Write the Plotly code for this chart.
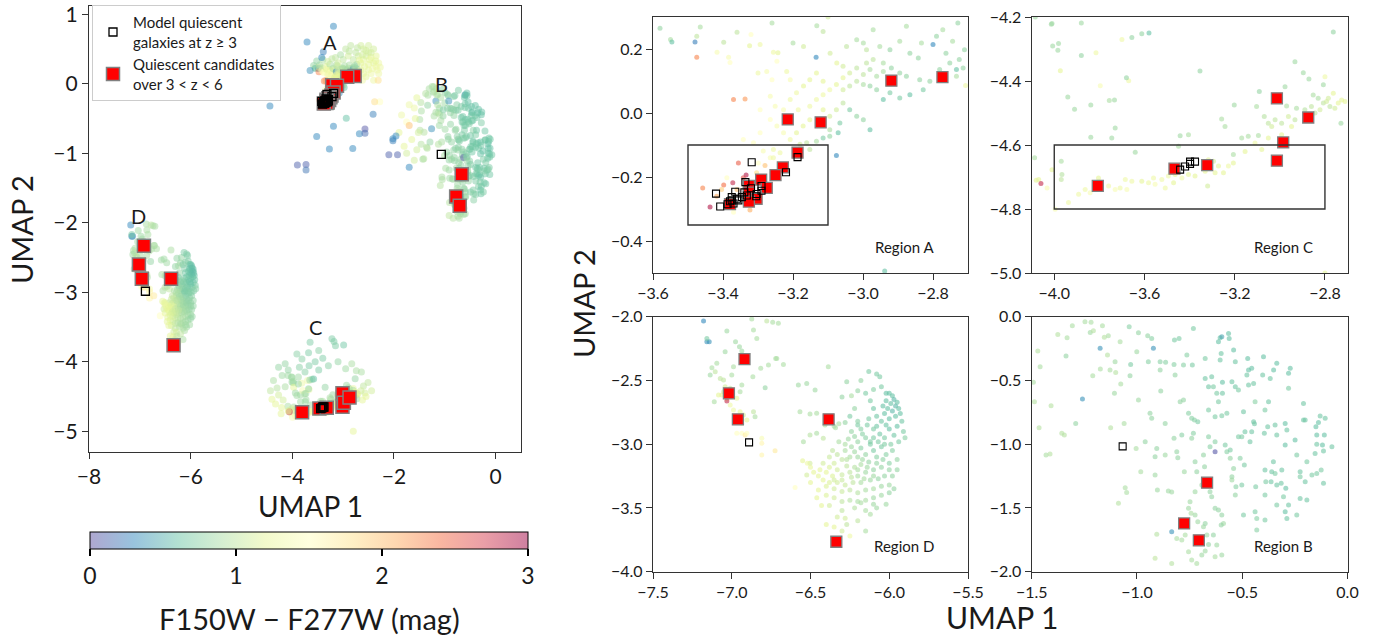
import plotly.graph_objects as go

# ---------------- data: (UMAP1, UMAP2, F150W-F277W colour) ----------------
CLUSTER_A = [
    (-3.58,0.265,0.8),(-3.55,0.23,0.9),(-3.546,0.222,0.6),(-3.48,0.222,0.25),(-3.475,0.174,2.3),(-3.465,0.269,0.9),
    (-3.475,0.24,1.0),(-3.417,0.19,1.4),(-3.398,0.221,1.0),(-3.384,0.174,1.4),(-3.38,0.158,1.5),(-3.36,0.252,1.0),
    (-3.324,0.21,1.2),(-3.32,0.245,1.5),(-3.294,0.214,1.3),(-3.26,0.281,0.9),(-3.256,0.19,1.3),(-3.243,0.188,1.2),
    (-3.246,0.162,1.5),(-3.26,0.104,1.5),(-3.275,0.13,1.4),(-3.3,0.125,1.3),(-3.218,0.13,1.3),(-3.208,0.104,1.4),
    (-3.2,0.219,0.9),(-3.17,0.208,1.1),(-3.134,0.174,0.3),(-3.132,0.273,0.9),(-3.114,0.255,1.0),(-3.094,0.187,1.1),
    (-3.075,0.156,1.2),(-3.047,0.208,1.0),(-3.018,0.229,0.9),(-2.999,0.219,0.9),(-2.99,0.198,1.0),(-2.971,0.26,0.9),
    (-2.952,0.208,0.9),(-2.923,0.198,0.8),(-2.895,0.224,0.9),(-2.876,0.271,0.9),(-2.866,0.187,0.8),(-2.842,0.172,0.8),
    (-2.833,0.219,0.9),(-2.8,0.214,0.3),(-2.79,0.24,0.8),(-2.772,0.26,0.9),(-2.763,0.187,0.8),(-2.744,0.224,0.9),
    (-2.729,0.281,0.8),(-2.725,0.167,0.8),(-2.71,0.198,0.8),(-2.733,0.136,0.6),(-2.707,0.086,1.3),
    (-3.057,0.146,1.1),(-3.038,0.125,1.1),(-3.018,0.141,1.0),(-2.999,0.12,1.0),(-2.98,0.136,0.9),(-2.961,0.115,0.9),
    (-2.942,0.13,0.9),(-2.919,0.141,0.8),(-2.895,0.125,0.8),(-2.876,0.115,0.8),(-2.942,0.156,0.9),(-2.971,0.167,1.0),
    (-2.99,0.156,1.0),(-3.057,0.11,1.2),(-3.076,0.089,1.2),(-3.095,0.073,1.3),(-3.114,0.057,1.3),(-3.057,0.073,1.1),
    (-3.038,0.084,1.0),(-3.018,0.099,1.0),(-2.999,0.089,0.9),(-2.98,0.084,0.8),(-2.961,0.073,0.8),(-2.942,0.042,0.6),
    (-2.923,0.063,0.7),(-2.895,0.047,0.7),(-2.866,0.057,0.6),(-2.838,0.104,0.8),(-2.828,0.073,0.7),(-2.809,0.099,0.8),
    (-2.781,0.136,0.8),(-2.752,0.156,0.8),(-2.733,0.115,0.9),(-2.714,0.141,0.8),
    (-3.133,0.042,1.3),(-3.152,0.021,1.3),(-3.114,0.01,1.2),(-3.095,-0.01,1.1),(-3.076,0.01,1.1),(-3.057,0.031,1.0),
    (-3.038,0.01,0.7),(-3.066,-0.031,0.7),(-3.095,-0.052,0.9),(-3.114,-0.078,0.7),(-3.133,-0.088,0.9),(-3.095,-0.073,0.8),
    (-3.071,-0.062,0.6),(-3.076,-0.133,0.3),(-2.98,-0.052,0.6),(-2.999,-0.021,0.8),(-3.018,-0.01,0.8),(-3.152,-0.021,1.2),
    (-3.171,-0.041,1.2),(-3.19,-0.062,1.2),(-3.161,-0.093,1.0),(-3.152,-0.114,1.0),(-3.18,-0.098,1.1),(-3.208,-0.083,1.3),
    (-3.227,-0.062,1.4),(-3.246,-0.041,1.4),(-3.265,-0.02,1.5),(-3.294,0.01,1.5),(-3.251,0.021,1.4),(-3.265,0.052,1.4),
    (-3.208,0.042,1.3),(-3.19,0.063,1.3),(-3.17,0.084,1.2),(-3.152,0.104,1.2),(-3.133,0.125,1.2),(-3.114,0.099,1.2),
    (-3.185,0.01,1.3),(-3.227,0.01,1.4),(-3.294,-0.062,1.5),(-3.313,-0.093,1.5),(-3.342,-0.083,1.5),(-3.37,0.042,2.3),
    (-3.337,0.044,2.2),(-3.285,-0.119,1.4),(-3.256,-0.114,1.3),(-3.237,-0.124,1.3),(-3.265,-0.14,1.4),
    (-3.458,-0.234,2.3),(-3.398,-0.225,2.4),(-3.372,-0.218,2.8),(-3.356,-0.156,2.5),(-3.334,-0.194,2.9),(-3.342,-0.202,2.6),
    (-3.437,-0.294,2.9),(-3.37,-0.31,1.5),(-3.389,-0.202,1.5),(-3.299,-0.156,1.5),(-3.28,-0.164,2.0),(-3.256,-0.14,1.3),
    (-3.323,-0.303,2.1),(-3.418,-0.26,2.1),(-3.404,-0.239,1.9),(-3.36,-0.239,2.0),(-3.389,-0.275,2.2),(-3.304,-0.187,1.8),
    (-2.938,-0.494,0.6),
    (-2.65,0.30,1.2),(-2.60,0.35,1.2),(-2.55,0.40,1.1),(-2.50,0.45,1.1),(-2.45,0.38,1.2),(-2.40,0.30,1.2),(-2.35,0.25,1.3),
    (-2.50,0.20,1.2),(-2.60,0.15,1.2),(-2.55,0.10,1.2),(-2.45,0.15,1.3),(-2.35,0.40,1.2),(-2.30,0.30,1.3),(-2.40,0.50,1.1),
    (-2.60,0.50,1.1),(-2.70,0.40,1.1),(-2.80,0.35,1.0),(-2.90,0.40,1.1),(-3.00,0.35,1.0),(-3.10,0.30,1.1),(-2.75,0.45,1.0),
    (-2.65,0.20,1.2),(-2.50,0.28,1.2),(-2.62,0.05,1.3),(-2.40,0.05,1.3),(-2.30,0.15,1.3),(-3.15,0.38,1.0),(-3.30,0.32,1.1),
    (-2.95,0.50,1.0),(-2.85,0.55,1.0),(-2.65,0.55,1.1),(-2.50,0.55,1.1),(-2.33,0.20,1.3),(-2.27,0.24,1.3),(-2.31,0.05,1.8),
    (-2.28,-0.26,1.5),(-2.38,-0.26,1.8),(-2.68,0.34,1.2),(-2.58,0.25,1.2),(-2.48,0.35,1.2),(-2.42,0.22,1.3),(-2.55,0.48,1.1),
    (-2.72,0.52,1.0),(-2.88,0.47,1.0),(-3.05,0.42,0.9),(-3.22,0.36,1.0),(-3.40,0.35,0.9),(-3.52,0.33,0.8),(-2.36,0.33,1.2),
    (-2.45,0.45,1.1),(-2.62,0.42,1.1),
]

CLUSTER_B = [
    (-1.471,-0.269,0.95),(-1.492,-0.515,0.9),(-1.487,-0.667,0.95),(-1.465,-0.871,0.95),(-1.46,-0.392,0.9),(-1.376,-0.139,0.95),
    (-1.332,-0.165,0.9),(-1.337,-0.309,0.8),(-1.408,-0.698,0.95),(-1.432,-1.085,0.9),(-1.413,-1.077,0.95),(-1.357,-0.915,0.95),
    (-1.345,-0.928,0.95),(-1.291,-0.837,0.8),(-1.307,-0.071,0.9),(-1.259,-0.646,0.35),(-1.247,-0.039,0.9),(-1.218,-0.044,0.9),
    (-1.222,-0.123,0.85),(-1.207,-0.11,0.95),(-1.21,-0.463,0.9),(-1.175,-0.248,0.35),(-1.174,-0.41,0.9),(-1.164,-0.071,0.9),
    (-1.155,-0.162,0.95),(-1.136,-0.149,0.9),(-1.14,-0.301,0.95),(-1.128,-0.418,0.9),(-1.104,-0.353,0.85),(-1.101,-0.437,0.95),
    (-1.08,-0.196,0.9),(-1.077,-0.528,0.9),(-1.107,-0.601,0.85),(-1.125,-0.871,0.95),(-1.061,-0.837,0.9),(-1.056,-1.341,0.9),
    (-1.049,-1.378,0.9),(-1.088,-1.464,0.95),(-1.037,-0.078,0.75),(-1.03,-0.374,0.7),(-1.033,-0.463,0.8),(-0.993,-0.125,0.8),
    (-0.993,-0.654,0.85),(-1.001,-0.275,0.85),(-1.004,-1.033,0.9),(-0.961,-0.98,0.8),(-0.982,-1.216,0.9),(-0.949,-0.149,0.8),
    (-0.93,-0.17,0.75),(-0.922,-0.248,0.35),(-0.946,-0.353,0.75),(-0.938,-0.758,0.8),(-0.93,-0.797,0.8),(-0.914,-1.098,0.8),
    (-0.914,-1.242,0.85),(-0.906,-1.033,0.8),(-0.903,-1.359,0.85),(-0.906,-1.707,0.95),(-0.914,-1.895,1.0),(-0.89,-0.418,0.8),
    (-0.887,-0.583,0.8),(-0.866,-0.837,0.8),(-0.89,-0.353,0.75),(-0.864,-0.358,0.75),(-0.866,-1.085,0.85),(-0.851,-1.367,0.85),
    (-0.835,-1.374,0.85),(-0.822,-0.183,0.7),(-0.824,-0.374,0.75),(-0.819,-0.458,0.8),(-0.824,-0.954,0.8),(-0.811,-1.059,0.8),
    (-0.806,-1.106,0.8),(-0.795,-0.667,0.8),(-0.8,-0.17,0.7),(-0.835,-1.686,0.35),(-0.835,-1.935,0.95),(-0.779,-0.379,0.75),
    (-0.779,-0.654,0.8),(-0.787,-0.928,0.75),(-0.775,-1.216,0.85),(-0.763,-0.301,0.75),(-0.755,-0.758,0.75),(-0.74,-0.797,0.75),
    (-0.737,-0.379,0.7),(-0.732,-0.915,0.75),(-0.74,-0.954,0.8),(-0.727,-0.81,0.75),(-0.711,-0.824,0.7),(-0.724,-1.137,0.8),
    (-0.732,-0.092,0.7),(-0.716,-1.216,0.8),(-0.724,-1.373,0.85),(-0.748,-1.451,0.85),(-0.755,-1.503,0.85),(-0.743,-1.542,0.9),
    (-0.724,-1.556,0.85),(-0.711,-1.608,0.85),(-0.684,-1.647,0.85),(-0.676,-1.621,0.8),(-0.668,-1.712,0.85),(-0.66,-1.786,0.8),
    (-0.676,-1.838,0.85),(-0.692,-1.869,0.85),(-0.74,-1.908,0.9),(-0.716,-1.935,0.9),(-0.755,-1.843,0.9),(-0.787,-1.752,0.9),
    (-0.771,-1.712,0.9),(-0.811,-1.739,0.9),(-0.676,-0.327,0.7),(-0.676,-0.484,0.65),(-0.66,-0.549,0.65),(-0.66,-0.732,0.7),
    (-0.66,-0.941,0.75),(-0.653,-1.02,0.75),(-0.684,-1.085,0.8),(-0.679,-1.176,0.8),(-0.692,-1.32,0.85),(-0.653,-1.373,0.8),
    (-0.645,-1.412,0.8),(-0.629,-1.503,0.8),(-0.613,-1.516,0.8),(-0.597,-1.556,0.8),(-0.589,-1.621,0.85),(-0.6,-1.634,0.8),
    (-0.637,-1.712,0.8),(-0.621,-1.791,0.85),(-0.597,-1.869,0.85),(-0.629,-1.882,0.9),(-0.605,-0.165,0.6),(-0.597,-0.157,0.45),
    (-0.613,-0.196,0.6),(-0.6,-0.288,0.65),(-0.605,-0.34,0.65),(-0.594,-0.515,0.6),(-0.645,-0.471,0.65),(-0.637,-0.549,0.7),
    (-0.621,-0.601,0.7),(-0.594,-0.601,0.65),(-0.597,-0.776,0.7),(-0.629,-0.784,0.7),(-0.573,-0.758,0.7),(-0.613,-0.667,0.7),
    (-0.629,-0.98,0.75),(-0.629,-1.059,0.05),(-0.581,-1.007,0.7),(-0.573,-1.059,0.75),(-0.557,-1.046,0.7),(-0.557,-1.111,0.8),
    (-0.541,-1.19,0.8),(-0.549,-1.255,0.8),(-0.549,-1.281,0.85),(-0.53,-1.333,0.75),(-0.533,-1.399,0.8),(-0.565,-0.131,0.6),
    (-0.562,-0.17,0.6),(-0.541,-0.261,0.6),(-0.533,-0.353,0.65),(-0.549,-0.51,0.65),(-0.533,-0.549,0.65),(-0.518,-0.575,0.7),
    (-0.518,-0.941,0.7),(-0.502,-0.941,0.7),(-0.51,-1.111,0.75),(-0.502,-1.32,0.7),(-0.494,-1.556,0.7),(-0.49,-1.163,0.7),
    (-0.487,-0.902,0.65),(-0.494,-0.745,0.65),(-0.474,-0.327,0.6),(-0.47,-0.418,0.6),(-0.478,-0.458,0.65),(-0.47,-0.536,0.65),
    (-0.455,-0.405,0.6),(-0.446,-0.523,0.65),(-0.439,-0.667,0.75),(-0.446,-0.824,0.65),(-0.442,-0.84,0.65),(-0.455,-0.902,0.65),
    (-0.463,-0.98,0.65),(-0.436,-1.333,0.7),(-0.439,-1.529,0.7),(-0.431,-1.582,0.75),(-0.431,-1.673,0.75),(-0.399,-0.314,0.6),
    (-0.403,-0.458,0.65),(-0.392,-0.732,0.7),(-0.395,-0.915,0.65),(-0.392,-1.203,0.65),(-0.388,-1.294,0.7),(-0.392,-1.399,0.7),
    (-0.392,-1.595,0.7),(-0.375,-0.667,0.65),(-0.379,-0.863,0.65),(-0.367,-0.484,0.65),(-0.351,-0.418,0.6),(-0.344,-0.85,0.65),
    (-0.336,-0.928,0.65),(-0.336,-0.366,0.6),(-0.363,-1.294,0.65),(-0.36,-1.216,0.65),(-0.352,-1.137,0.65),(-0.344,-1.229,0.7),
    (-0.336,-1.32,0.65),(-0.336,-1.477,0.7),(-0.312,-1.203,0.65),(-0.315,-1.307,0.65),(-0.296,-1.007,0.6),(-0.28,-0.444,0.6),
    (-0.272,-0.405,0.6),(-0.28,-0.562,0.7),(-0.296,-0.837,0.6),(-0.288,-0.889,0.65),(-0.293,-1.346,0.6),(-0.296,-1.529,0.6),
    (-0.288,-1.582,0.65),(-0.28,-1.477,0.65),(-0.304,-1.412,0.7),(-0.249,-0.967,0.6),(-0.241,-1.085,0.7),(-0.241,-1.556,0.7),
    (-0.209,-0.68,0.65),(-0.209,-0.81,0.65),(-0.201,-0.81,0.65),(-0.193,-1.137,0.7),(-0.201,-1.294,0.65),(-0.193,-1.438,0.65),
    (-0.225,-1.216,0.65),(-0.225,-1.255,0.7),(-0.225,-1.425,0.65),(-0.169,-1.242,0.7),(-0.154,-1.072,0.65),(-0.15,-0.863,0.6),
    (-0.146,-0.928,0.6),(-0.138,-0.829,0.6),(-0.13,-0.779,0.65),(-0.146,-1.001,0.65),(-0.119,-1.007,0.6),(-0.114,-1.054,0.65),
    (-0.11,-0.928,0.6),(-0.106,-0.797,0.65),(-0.125,-1.203,0.7),(-0.114,-1.307,0.65),(-0.146,-1.229,0.7),(-0.074,-1.02,0.65),
    (-1.85,-0.45,1.3),(-1.75,-0.55,1.5),(-1.70,-0.60,2.0),(-1.60,-0.35,1.3),(-1.55,-0.20,1.2),(-1.65,-0.80,1.2),(-1.80,-0.90,1.2),
    (-1.55,-0.95,1.1),(-1.60,-1.10,1.1),(-1.70,-0.30,1.3),(-1.90,-0.70,1.2),(-1.58,-0.50,1.2),(-1.52,-0.70,1.1),(-1.75,-1.00,1.1),
]

CLUSTER_C = [
    (-4.084,-4.2,0.85),(-4.013,-4.223,0.85),(-4.007,-4.291,0.85),(-3.981,-4.283,0.85),(-3.984,-4.304,0.85),(-3.973,-4.368,1.2),
    (-3.88,-4.219,0.85),(-3.815,-4.312,1.3),(-3.91,-4.488,0.85),(-3.838,-4.475,0.85),(-3.796,-4.415,1.4),(-3.756,-4.461,0.9),
    (-3.733,-4.459,0.85),(-3.73,-4.547,0.85),(-3.745,-4.578,0.85),(-3.838,-4.576,0.85),(-3.7,-4.27,1.3),(-3.67,-4.399,1.3),
    (-3.656,-4.264,0.8),(-3.612,-4.252,0.8),(-3.641,-4.623,0.85),(-3.442,-4.571,0.85),(-3.405,-4.568,0.9),(-3.354,-4.369,0.8),
    (-3.258,-4.519,0.9),(-3.243,-4.542,0.9),(-3.202,-4.475,0.85),(-3.206,-4.63,0.9),(-3.169,-4.578,0.9),(-3.14,-4.573,0.9),
    (-3.095,-4.57,0.9),(-3.091,-4.433,0.8),(-3.103,-4.48,0.9),(-3.069,-4.511,0.95),(-3.051,-4.532,1.0),(-3.036,-4.542,1.1),
    (-3.021,-4.521,1.0),(-2.992,-4.532,1.0),(-2.97,-4.478,0.9),(-2.977,-4.418,0.85),(-2.933,-4.34,0.85),(-2.926,-4.485,0.9),
    (-2.933,-4.521,1.0),(-2.896,-4.374,0.85),(-2.871,-4.394,0.85),(-2.889,-4.49,0.95),(-2.86,-4.48,1.0),(-2.844,-4.5,1.0),
    (-2.822,-4.49,1.1),(-2.807,-4.469,1.0),(-2.8,-4.387,1.3),(-2.807,-4.412,0.85),(-2.793,-4.464,1.1),(-2.778,-4.48,1.0),
    (-2.785,-4.454,1.1),(-2.763,-4.438,1.2),(-2.756,-4.485,1.1),(-2.741,-4.469,1.2),(-2.726,-4.459,1.2),(-2.729,-4.532,0.85),
    (-2.763,-4.247,0.8),(-2.711,-4.464,1.2),(-2.83,-4.454,0.9),(-2.852,-4.444,0.9),(-2.962,-4.511,1.1),(-2.948,-4.542,1.2),
    (-2.992,-4.568,1.2),(-3.051,-4.578,1.2),(-3.08,-4.614,1.2),(-3.11,-4.594,1.3),(-3.154,-4.62,1.2),(-3.206,-4.656,1.2),
    (-3.228,-4.666,1.3),(-3.25,-4.687,1.2),(-3.272,-4.666,1.2),(-3.294,-4.651,1.1),(-3.317,-4.646,1.2),(-3.331,-4.682,1.2),
    (-3.287,-4.687,1.2),(-3.32,-4.728,1.1),(-3.376,-4.697,1.2),(-3.405,-4.692,1.2),(-3.434,-4.703,1.3),(-3.464,-4.692,1.2),
    (-3.494,-4.697,1.3),(-3.523,-4.708,1.3),(-3.553,-4.723,1.4),(-3.582,-4.718,1.3),(-3.612,-4.713,1.2),(-3.56,-4.703,1.3),
    (-3.449,-4.604,0.9),(-3.471,-4.718,1.2),(-3.508,-4.734,1.3),(-3.678,-4.739,1.4),(-3.73,-4.739,1.4),(-3.708,-4.734,1.3),
    (-3.759,-4.728,1.3),(-3.804,-4.703,1.2),(-3.841,-4.749,1.4),(-3.863,-4.739,1.3),(-3.892,-4.754,1.3),(-3.937,-4.78,1.3),
    (-3.969,-4.708,1.0),(-3.966,-4.692,0.95),(-3.969,-4.651,0.9),(-4.01,-4.677,1.2),(-3.996,-4.801,1.4),(-4.032,-4.734,1.4),
    (-4.069,-4.708,1.2),(-4.087,-4.64,0.9),(-4.059,-4.72,2.8),(-3.656,-4.713,1.3),(-3.685,-4.708,1.3),
    (-3.65,-3.72,0.7),(-3.22,-3.67,0.7),(-2.99,-3.76,0.65),(-3.18,-3.71,0.7),(-3.15,-3.77,0.7),(-3.48,-3.84,0.75),
    (-3.68,-3.87,0.7),(-3.91,-3.89,0.75),(-3.81,-3.96,0.75),(-4.14,-4.03,0.8),(-4.27,-4.08,0.8),(-4.08,-4.12,0.8),
    (-3.86,-4.08,0.75),(-3.67,-4.06,0.7),(-3.48,-4.12,0.7),(-3.29,-4.06,0.75),(-2.83,-4.03,0.9),(-2.74,-4.13,0.9),
    (-2.64,-4.15,0.9),(-4.37,-4.27,0.9),(-4.43,-4.42,1.0),(-4.40,-4.54,1.2),(-4.27,-4.48,1.1),(-4.14,-4.36,0.9),
    (-4.01,-4.22,0.85),(-4.33,-4.61,1.2),(-4.21,-4.66,1.2),(-4.08,-4.71,1.2),(-2.51,-4.30,1.0),(-2.44,-4.42,1.1),
    (-2.57,-4.45,1.1),(-2.80,-5.00,1.2),(-3.88,-4.32,0.8),(-3.68,-4.39,0.8),(-3.58,-4.25,0.6),(-3.94,-4.45,0.85),
    (-4.20,-4.20,0.85),(-4.30,-4.38,0.95),(-4.18,-4.55,1.1),(-2.60,-4.35,1.0),(-2.55,-4.50,1.2),(-2.65,-4.42,1.1),
    (-2.62,-4.55,1.2),(-3.40,-3.95,0.7),(-3.55,-4.00,0.7),(-3.10,-4.00,0.8),(-2.95,-4.10,0.85),(-3.75,-4.15,0.75),
    (-4.22,-4.75,1.2),
]

CLUSTER_D = [
    (-7.179,-2.034,0.3),(-7.158,-2.196,0.35),(-7.143,-2.196,0.35),(-7.158,-2.17,0.7),(-7.031,-2.112,0.85),(-6.976,-2.196,0.85),
    (-6.951,-2.235,0.85),(-6.936,-2.269,0.85),(-6.936,-2.301,0.9),(-6.873,-2.018,0.9),(-6.862,-2.105,0.9),(-6.841,-2.17,0.9),
    (-6.778,-2.034,1.0),(-6.74,-2.044,0.9),(-6.704,-2.052,0.9),(-6.721,-2.327,0.9),(-6.767,-2.379,0.9),(-6.816,-2.405,0.9),
    (-6.788,-2.557,0.8),(-6.866,-2.471,0.9),(-7.042,-2.275,0.85),(-7.095,-2.366,0.9),(-7.105,-2.431,1.0),(-7.073,-2.484,1.0),
    (-7.052,-2.497,1.0),(-7.042,-2.549,1.1),(-7.01,-2.562,1.0),(-7.0,-2.458,0.9),(-6.989,-2.392,0.9),(-7.126,-2.4,0.9),
    (-7.137,-2.458,0.85),(-7.111,-2.667,0.9),(-7.084,-2.614,1.2),(-7.063,-2.614,1.2),(-7.031,-2.646,1.3),(-7.031,-2.661,2.8),
    (-7.01,-2.693,1.3),(-6.989,-2.732,1.3),(-6.947,-2.745,1.2),(-6.926,-2.771,1.1),(-6.968,-2.81,1.2),(-6.936,-2.837,1.4),
    (-6.904,-2.81,1.2),(-6.968,-2.915,1.5),(-6.936,-2.915,1.5),(-6.915,-2.928,1.7),(-6.904,-2.915,1.5),(-6.947,-2.588,0.9),
    (-6.936,-2.536,0.9),(-6.862,-2.745,1.0),(-6.852,-2.784,0.9),(-6.809,-2.954,1.4),(-6.809,-2.993,1.6),(-6.809,-3.085,1.6),
    (-6.725,-3.051,1.7),(-6.968,-2.64,1.2),(-7.0,-2.614,1.2),(-7.052,-2.588,1.1),
    (-6.672,-2.374,0.9),(-6.714,-2.327,0.9),(-6.577,-2.536,0.85),(-6.524,-2.523,0.85),(-6.471,-2.575,0.85),(-6.567,-2.745,0.9),
    (-6.503,-2.763,0.9),(-6.461,-2.758,0.9),(-6.545,-2.98,0.9),(-6.503,-2.928,0.95),(-6.461,-2.915,0.9),(-6.419,-2.954,1.0),
    (-6.408,-2.85,0.9),(-6.387,-2.392,0.9),(-6.341,-2.871,0.9),(-6.503,-3.15,1.1),(-6.598,-3.339,1.5),(-6.524,-3.242,1.1),
    (-6.27,-2.51,0.8),(-6.18,-2.5,0.8),(-6.13,-2.43,0.7),(-6.08,-2.45,0.7),(-6.06,-2.47,0.7),(-6.02,-2.6,0.6),(-6.2,-2.58,0.8),
    (-6.24,-2.62,0.9),(-6.3,-2.63,0.8),(-6.15,-2.6,0.7),(-6.1,-2.57,0.75),(-6.05,-2.55,0.7),(-6.12,-2.66,0.7),(-6.22,-2.72,0.8),
    (-6.28,-2.83,0.8),(-6.35,-2.86,0.9),(-6.32,-2.84,0.9),(-6.2,-2.85,0.7),(-6.25,-2.78,0.7),
    (-6.0,-2.6,0.6),(-5.98,-2.62,0.6),(-5.97,-2.65,0.55),(-5.95,-2.67,0.6),(-5.99,-2.68,0.6),(-6.02,-2.66,0.6),(-5.96,-2.7,0.55),
    (-5.94,-2.72,0.6),(-6.01,-2.72,0.6),(-5.98,-2.74,0.55),(-5.93,-2.76,0.6),(-6.03,-2.76,0.6),(-5.96,-2.78,0.6),(-6.0,-2.8,0.6),
    (-5.92,-2.82,0.65),(-6.05,-2.82,0.65),(-5.95,-2.86,0.6),(-5.91,-2.9,0.7),(-6.0,-2.88,0.6),(-6.08,-2.86,0.65),(-5.97,-2.93,0.65),
    (-6.03,-2.95,0.7),(-5.94,-2.98,0.7),(-5.9,-2.95,0.75),(-6.06,-2.92,0.65),(-6.1,-2.88,0.7),(-6.13,-2.8,0.7),(-6.08,-2.78,0.65),
    (-6.04,-2.7,0.6),(-6.1,-2.72,0.65),
    (-6.15,-2.95,0.75),(-6.2,-2.98,0.8),(-6.12,-3.0,0.7),(-6.18,-3.03,0.75),(-6.24,-3.02,0.85),(-6.28,-3.05,0.9),(-6.1,-3.05,0.7),
    (-6.05,-3.02,0.7),(-6.15,-3.08,0.8),(-6.2,-3.1,0.85),(-6.25,-3.1,0.9),(-6.3,-3.12,1.0),(-6.35,-3.15,1.1),(-6.08,-3.1,0.75),
    (-6.02,-3.08,0.75),(-5.98,-3.05,0.75),(-6.13,-3.14,0.8),(-6.18,-3.16,0.9),(-6.22,-3.18,0.95),(-6.27,-3.17,1.0),(-6.33,-3.2,1.1),
    (-6.38,-3.18,1.15),(-6.4,-3.22,1.2),(-6.36,-3.25,1.15),(-6.3,-3.24,1.05),(-6.25,-3.22,1.0),(-6.2,-3.25,0.9),(-6.15,-3.22,0.85),
    (-6.1,-3.2,0.8),(-6.05,-3.18,0.8),(-6.0,-3.15,0.75),(-5.95,-3.12,0.8),(-6.12,-2.98,0.7),(-6.17,-2.92,0.75),(-6.22,-2.94,0.8),
    (-6.26,-2.96,0.85),(-6.32,-2.98,0.9),(-6.36,-3.05,1.0),(-6.42,-3.15,1.1),(-6.44,-3.2,1.2),(-6.45,-3.25,1.2),(-6.42,-3.28,1.2),
    (-6.38,-3.3,1.15),(-6.33,-3.3,1.1),(-6.28,-3.32,1.05),(-6.23,-3.3,1.0),(-6.18,-3.3,0.9),(-6.12,-3.28,0.85),(-6.07,-3.27,0.8),
    (-6.03,-3.25,0.8),(-5.98,-3.25,0.8),(-5.95,-3.2,0.8),(-6.35,-3.35,1.1),(-6.3,-3.37,1.05),(-6.25,-3.36,1.0),(-6.2,-3.38,0.95),
    (-6.15,-3.36,0.9),(-6.1,-3.35,0.9),(-6.05,-3.33,0.85),(-6.0,-3.32,0.85),(-6.4,-3.4,1.15),(-6.45,-3.36,1.2),(-6.5,-3.3,1.2),
    (-6.48,-3.22,1.2),(-6.5,-3.18,1.25),(-6.52,-3.15,1.3),(-6.55,-3.13,1.2),(-6.38,-3.1,1.05),(-6.33,-3.08,1.0),(-6.28,-3.0,0.9),
    (-6.24,-2.9,0.8),(-6.18,-2.88,0.75),
    (-6.35,-3.42,1.1),(-6.3,-3.45,1.0),(-6.25,-3.44,0.95),(-6.2,-3.45,0.9),(-6.15,-3.44,0.9),(-6.1,-3.42,0.85),(-6.05,-3.4,0.85),
    (-6.0,-3.38,0.8),(-5.97,-3.35,0.8),(-6.38,-3.48,1.1),(-6.3,-3.52,1.0),(-6.22,-3.5,0.95),(-6.15,-3.52,0.9),(-6.08,-3.5,0.85),
    (-6.02,-3.47,0.85),(-6.18,-3.46,0.9),(-6.12,-3.55,0.9),(-6.28,-3.58,1.1),(-6.33,-3.57,1.1),(-6.4,-3.63,1.2),(-6.35,-3.65,1.2),
    (-6.3,-3.68,1.1),(-6.27,-3.63,1.0),(-6.2,-3.6,1.0),(-6.15,-3.68,0.9),(-6.25,-3.72,1.3),(-6.43,-3.48,1.2),(-6.46,-3.42,1.2),
    (-6.1,-3.47,0.85),
    (-6.2,-3.2,0.9),(-6.17,-3.12,0.85),(-6.22,-3.06,0.85),(-6.27,-3.12,0.95),(-6.14,-3.18,0.85),(-6.08,-3.15,0.8),(-6.04,-3.12,0.78),
    (-6.0,-3.2,0.8),(-6.1,-3.25,0.85),(-6.16,-3.27,0.9),(-6.3,-3.28,1.05),(-6.35,-3.28,1.1),(-6.4,-3.33,1.15),(-6.24,-3.26,1.0),
    (-6.1,-2.95,0.7),(-6.07,-2.98,0.7),(-6.03,-3.0,0.72),(-5.99,-3.0,0.72),(-6.14,-2.85,0.7),(-6.2,-2.82,0.75),(-6.02,-2.85,0.62),
]

OUTLIERS = [
    (-3.19,0.83,0.3),(-3.71,0.60,0.3),(-3.39,0.46,0.25),(-3.42,0.38,0.3),(-3.65,0.19,0.35),(-4.44,-0.32,0.3),
    (-2.41,-0.44,0.25),(-3.19,-0.61,0.3),(-2.57,-0.65,0.05),(-2.68,-0.72,0.3),(-2.57,-0.71,0.15),(-3.52,-0.76,0.3),
    (-3.27,-0.94,0.3),(-2.81,-0.93,0.3),(-3.90,-1.17,0.1),(-3.73,-1.16,0.1),(-3.73,-1.24,0.2),(-2.10,-1.02,0.1),
    (-1.93,-1.02,0.1),(-2.02,-0.79,0.3),(-1.96,-0.75,0.3),(-2.02,-0.82,0.25),(-1.70,-1.20,0.3),
]

# quiescent candidates over 3<z<6 (red squares)
CAND_X = [-2.773,-2.919,-3.215,-3.121,-3.187,-3.229,-3.25,-3.291,-3.275,-3.326,-3.326,-3.304,-3.326,-3.38,
          -0.667,-0.776,-0.706,
          -3.807,-3.467,-3.322,-3.013,-3.013,-2.985,-2.874,
          -6.919,-7.018,-6.961,-6.385,-6.336]
CAND_Y = [0.112,0.101,-0.02,-0.029,-0.124,-0.17,-0.194,-0.208,-0.234,-0.228,-0.249,-0.268,-0.277,-0.285,
          -1.302,-1.621,-1.754,
          -4.728,-4.674,-4.663,-4.454,-4.649,-4.592,-4.514,
          -2.332,-2.601,-2.805,-2.805,-3.765]

# model quiescent galaxies at z>=3 (open squares)
MODEL_X = [-3.318,-3.187,-3.22,-3.336,-3.29,-3.29,-3.42,-3.365,-3.339,-3.32,-3.408,-3.387,-3.375,-3.375,-3.36,
           -3.346,-3.332,-3.304,-3.38,-3.37,-3.356,-3.305,
           -3.442,-3.42,-3.398,-3.398,-3.376,
           -6.89, -1.068]
MODEL_Y = [-0.154,-0.138,-0.185,-0.216,-0.228,-0.243,-0.252,-0.246,-0.248,-0.235,-0.292,-0.285,-0.273,-0.263,-0.268,
           -0.263,-0.258,-0.253,-0.276,-0.283,-0.273,-0.26,
           -4.677,-4.667,-4.659,-4.652,-4.652,
           -2.986, -1.017]

CLUSTER_LABELS = ["A", "B", "C", "D"]
CLUSTER_LABEL_X = [-3.26, -1.06, -3.54, -7.02]
CLUSTER_LABEL_Y = [0.60, 0.00, -3.50, -1.91]

# zoom panels: name, x-range, y-range, x tick step, y tick step
PANELS = [
    ("Region A", [-3.6, -2.7], [-0.5, 0.3], 0.2, 0.2),
    ("Region C", [-4.1, -2.7], [-5.0, -4.2], 0.4, 0.2),
    ("Region D", [-7.5, -5.5], [-4.0, -2.0], 0.5, 0.5),
    ("Region B", [-1.5, 0.0], [-2.0, 0.0], 0.5, 0.5),
]
BOX_A = [-3.5, -3.1, -0.35, -0.1]
BOX_C = [-4.0, -2.8, -4.8, -4.6]

CMIN, CMAX = 0, 3
SPECTRAL_R = ['#5e4fa2', '#3288bd', '#66c2a5', '#abdda4', '#e6f598', '#ffffbf',
              '#fee08b', '#fdae61', '#f46d43', '#d53e4f', '#9e0142']

# ---------------- build ----------------
W, H = 1377, 637
FONT = "Lato"
INK = "#1a1a1a"


def rgba_scale(alpha):
    out = []
    n = len(SPECTRAL_R) - 1
    for i, h in enumerate(SPECTRAL_R):
        r, g, b = int(h[1:3], 16), int(h[3:5], 16), int(h[5:7], 16)
        out.append([i / n, f"rgba({r},{g},{b},{alpha})"])
    return out


ALL = CLUSTER_A + CLUSTER_B + CLUSTER_C + CLUSTER_D + OUTLIERS
PX = [p[0] for p in ALL]
PY = [p[1] for p in ALL]
PC = [p[2] for p in ALL]


def px2x(p):
    return p / W


def py2y(p):
    return 1 - p / H


fig = go.Figure()

DOM = {
    1: ([89, 521], [6, 452]),
    2: ([653, 968], [17, 273]),
    3: ([1031.7, 1347.5], [17, 273]),
    4: ([653, 968], [316.7, 571.7]),
    5: ([1031.7, 1347.5], [316.7, 571.7]),
}

axis_style = dict(showline=True, mirror=True, linecolor="#333333", linewidth=1.3,
                  ticks="outside", ticklen=6, tickwidth=1.3, tickcolor="#333333",
                  showgrid=False, zeroline=False, automargin=False)

layout = dict(width=W, height=H, margin=dict(l=0, r=0, t=0, b=0, pad=0, autoexpand=False),
              paper_bgcolor="white", plot_bgcolor="white",
              font=dict(family=FONT, color=INK), showlegend=True)

for k, (xd, yd) in DOM.items():
    xn = "xaxis" if k == 1 else f"xaxis{k}"
    yn = "yaxis" if k == 1 else f"yaxis{k}"
    fs = 21 if k == 1 else 16
    layout[xn] = dict(domain=[px2x(xd[0]), px2x(xd[1])], anchor=("y" if k == 1 else f"y{k}"),
                      tickfont=dict(size=fs, color=INK), **axis_style)
    layout[yn] = dict(domain=[py2y(yd[1]), py2y(yd[0])], anchor=("x" if k == 1 else f"x{k}"),
                      tickfont=dict(size=fs, color=INK), **axis_style)

layout["xaxis"].update(range=[-8, 0.5], dtick=2, tick0=0)
layout["yaxis"].update(range=[-5.3, 1.12], dtick=1, tick0=0)
for i, (name, xr, yr, dx, dy) in enumerate(PANELS):
    k = i + 2
    layout[f"xaxis{k}"].update(range=xr, dtick=dx, tick0=0, tickformat=".1f")
    layout[f"yaxis{k}"].update(range=yr, dtick=dy, tick0=0, tickformat=".1f")

fig.add_trace(go.Scatter(
    x=PX, y=PY, mode="markers", xaxis="x", yaxis="y", showlegend=False, hoverinfo="skip",
    marker=dict(size=7, color=PC, cmin=CMIN, cmax=CMAX, colorscale=rgba_scale(0.5),
                line=dict(width=0), showscale=True,
                colorbar=dict(orientation="h", x=px2x(309), xanchor="center",
                              y=py2y(532), yanchor="top", len=438 / W, lenmode="fraction",
                              thickness=17, thicknessmode="pixels", outlinecolor="black",
                              outlinewidth=1, ticks="outside", ticklen=7, tickwidth=2,
                              tickcolor="black", tickvals=[0, 1, 2, 3],
                              tickfont=dict(size=23, color=INK, family=FONT),
                              xpad=0, ypad=0))))

fig.add_trace(go.Scatter(
    x=CAND_X, y=CAND_Y, mode="markers", xaxis="x", yaxis="y", hoverinfo="skip",
    name="Quiescent candidates<br>over 3 < z < 6", legendrank=2,
    marker=dict(symbol="square", size=13, color="#ff0000", line=dict(color="#808080", width=1.5))))
fig.add_trace(go.Scatter(
    x=MODEL_X, y=MODEL_Y, mode="markers", xaxis="x", yaxis="y", hoverinfo="skip",
    name="Model quiescent<br>galaxies at z ≥ 3", legendrank=1,
    marker=dict(symbol="square-open", size=8, color="black", line=dict(color="black", width=1.3))))

for i in range(4):
    k = i + 2
    xa, ya = f"x{k}", f"y{k}"
    fig.add_trace(go.Scatter(
        x=PX, y=PY, mode="markers", xaxis=xa, yaxis=ya, showlegend=False, hoverinfo="skip",
        marker=dict(size=5, color=PC, cmin=CMIN, cmax=CMAX, colorscale=rgba_scale(0.6),
                    line=dict(width=0), showscale=False)))
    fig.add_trace(go.Scatter(
        x=CAND_X, y=CAND_Y, mode="markers", xaxis=xa, yaxis=ya, showlegend=False, hoverinfo="skip",
        marker=dict(symbol="square", size=11, color="#ff0000", line=dict(color="#808080", width=1.3))))
    fig.add_trace(go.Scatter(
        x=MODEL_X, y=MODEL_Y, mode="markers", xaxis=xa, yaxis=ya, showlegend=False, hoverinfo="skip",
        marker=dict(symbol="square-open", size=7, color="black", line=dict(color="black", width=1.1))))

layout["legend"] = dict(x=px2x(92), y=py2y(5), xanchor="left", yanchor="top",
                        bordercolor="#cccccc", borderwidth=1, bgcolor="rgba(255,255,255,0.85)",
                        font=dict(size=15, color=INK, family=FONT), itemwidth=30,
                        tracegroupgap=0)

layout["shapes"] = [
    dict(type="rect", xref="x2", yref="y2", x0=BOX_A[0], x1=BOX_A[1], y0=BOX_A[2], y1=BOX_A[3],
         line=dict(color="#333333", width=1.4)),
    dict(type="rect", xref="x3", yref="y3", x0=BOX_C[0], x1=BOX_C[1], y0=BOX_C[2], y1=BOX_C[3],
         line=dict(color="#333333", width=1.4)),
]

C = dict(xanchor="center", yanchor="middle", showarrow=False)
ann = []
for t, x, y in zip(CLUSTER_LABELS, CLUSTER_LABEL_X, CLUSTER_LABEL_Y):
    ann.append(dict(text=t, x=x, y=y, xref="x", yref="y", font=dict(size=20, color=INK), **C))
REGION_LABEL_POS = [(904, 247), (1283, 247), (904, 546), (1283, 546)]
for (name, *_), (lx, ly) in zip(PANELS, REGION_LABEL_POS):
    ann.append(dict(text=name, x=px2x(lx), y=py2y(ly), xref="paper", yref="paper",
                    font=dict(size=15, color=INK), **C))
ann += [
    dict(text="UMAP 1", x=px2x(310), y=py2y(506), xref="paper", yref="paper",
         font=dict(size=28, color=INK), **C),
    dict(text="UMAP 2", x=px2x(22), y=py2y(230), xref="paper", yref="paper",
         textangle=-90, font=dict(size=29, color=INK), **C),
    dict(text="F150W − F277W (mag)", x=px2x(309), y=py2y(618), xref="paper", yref="paper",
         font=dict(size=29, color=INK), **C),
    dict(text="UMAP 1", x=px2x(1002), y=py2y(617), xref="paper", yref="paper",
         font=dict(size=30, color=INK), **C),
    dict(text="UMAP 2", x=px2x(583), y=py2y(304), xref="paper", yref="paper",
         textangle=-90, font=dict(size=29, color=INK), **C),
]
layout["annotations"] = ann

fig.update_layout(**layout)
fig.write_html("out.html")
